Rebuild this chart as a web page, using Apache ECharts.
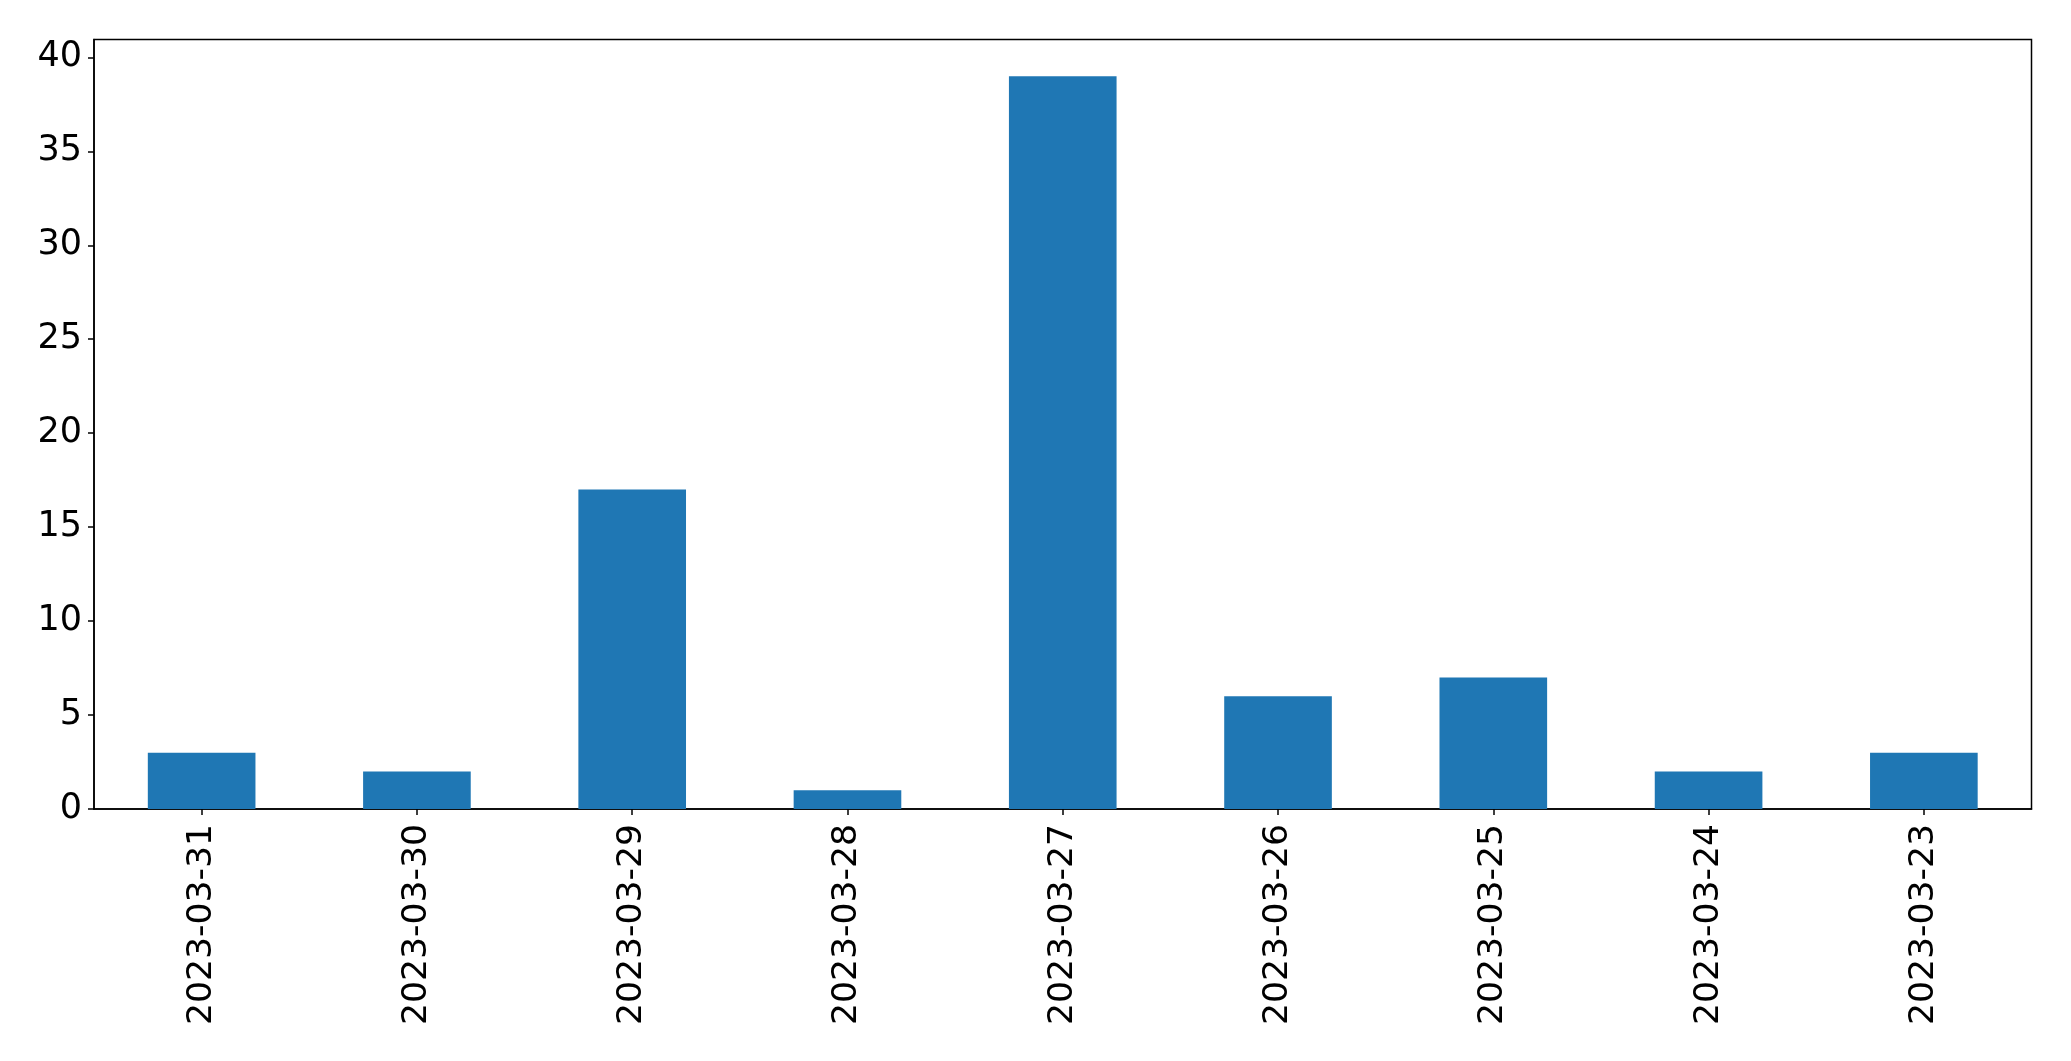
<!DOCTYPE html>
<html>
<head>
<meta charset="utf-8">
<script src="https://cdn.jsdelivr.net/npm/echarts@6/dist/echarts.min.js"></script>
<style>
html,body{margin:0;padding:0;background:#fff;}
#chart{width:2071px;height:1061px;}
</style>
</head>
<body>
<div id="chart"></div>
<script>
const categories = ['2023-03-31','2023-03-30','2023-03-29','2023-03-28','2023-03-27','2023-03-26','2023-03-25','2023-03-24','2023-03-23'];
const counts = [3, 2, 17, 1, 39, 6, 7, 2, 3];
const yTicks = [0, 5, 10, 15, 20, 25, 30, 35, 40];

const chart = echarts.init(document.getElementById('chart'), null, {renderer: 'canvas'});
chart.setOption({
  animation: false,
  backgroundColor: '#fff',
  grid: {
    left: 94, top: 39.5, right: 39.5, bottom: 252,
    show: true, borderColor: '#000', borderWidth: 1.5, backgroundColor: 'transparent',
    containLabel: false
  },
  xAxis: {
    type: 'category',
    data: categories,
    boundaryGap: true,
    axisLine: {show: true, lineStyle: {color: '#000', width: 1.5}},
    axisTick: {show: true, alignWithLabel: true, length: 6, lineStyle: {color: '#000', width: 1.5}},
    axisLabel: {rotate: 90, margin: 15, color: '#000', fontSize: 34.6, fontFamily: 'DejaVu Sans', interval: 0},
    splitLine: {show: false}
  },
  yAxis: {
    type: 'value',
    min: 0,
    max: 40.95,
    interval: 5,
    axisLine: {show: true, lineStyle: {color: '#000', width: 1.5}},
    axisTick: {show: true, length: 6, customValues: yTicks, lineStyle: {color: '#000', width: 1.5}},
    axisLabel: {margin: 12, color: '#000', fontSize: 35, fontFamily: 'DejaVu Sans', customValues: yTicks, padding: [4, 0, 0, 0]},
    splitLine: {show: false}
  },
  series: [{
    type: 'bar',
    data: counts,
    barWidth: '50%',
    itemStyle: {color: '#1f77b4'}
  }]
});
</script>
</body>
</html>
